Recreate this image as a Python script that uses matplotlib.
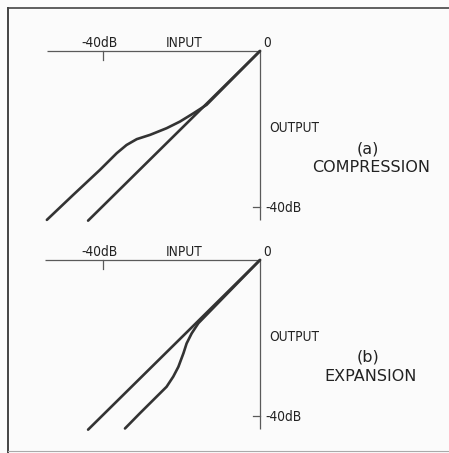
import matplotlib
matplotlib.use("Agg")
import matplotlib.pyplot as plt
from matplotlib.lines import Line2D
from matplotlib import font_manager as fm

# ---- data (dB) ----
input_axis_end_a = -54.3
input_axis_end_b = -54.8
output_axis_end = -43.3
tick_db = -40
tick_label = "-40dB"

ref_x = [0, -43.8]
ref_y = [0, -43.5]

comp_x = [0, -13.6, -17.0, -20.4, -23.8, -28.0, -31.4, -34.0, -36.5, -40.8, -47.6, -54.3]
comp_y = [0, -13.8, -16.0, -18.1, -19.8, -21.5, -22.6, -24.1, -26.2, -30.5, -36.9, -43.3]

exp_x = [0, -15.7, -17.4, -18.7, -19.5, -20.8, -22.1, -23.8, -27.2, -30.6, -34.4]
exp_y = [0, -16.2, -18.8, -21.4, -23.9, -27.4, -29.9, -32.5, -35.9, -39.3, -43.2]

panels = [
    ("(a)", "COMPRESSION", comp_x, comp_y, input_axis_end_a),
    ("(b)", "EXPANSION", exp_x, exp_y, input_axis_end_b),
]

W, H = 449, 453
fig = plt.figure(figsize=(W / 100, H / 100), dpi=100)
fig.patch.set_facecolor("#fbfbfb")

names = {f.name for f in fm.fontManager.ttflist}
narrow_candidates = [n for n in ["Liberation Sans Narrow", "DejaVu Sans"] if n in names]
narrow = narrow_candidates + ["DejaVu Sans"]
wide = ["DejaVu Sans"]
curve_c = "#333333"
axis_c = "#5a5a5a"
sx, sy = 3.925, 3.9
nfs = 9.8

geo = [
    dict(top=0, bottom=226, ox=260, oy=51),
    dict(top=226, bottom=453, ox=260, oy=260),
]

for (lab, name, cx, cy, in_end), g in zip(panels, geo):
    ax = fig.add_axes([0, 1 - g["bottom"] / H, 1, (g["bottom"] - g["top"]) / H])
    ax.set_xlim(-g["ox"] / sx, (W - g["ox"]) / sx)
    ax.set_ylim(-(g["bottom"] - g["oy"]) / sy, (g["oy"] - g["top"]) / sy)
    ax.axis("off")
    ax.patch.set_alpha(0)
    ax.plot([in_end, 0], [0, 0], color=axis_c, lw=0.9, solid_capstyle="butt")
    ax.plot([0, 0], [0, output_axis_end], color=axis_c, lw=0.9, solid_capstyle="butt")
    ax.plot([tick_db, tick_db], [0, -2.3], color=axis_c, lw=0.9)
    ax.plot([-1.8, 0], [tick_db, tick_db], color=axis_c, lw=0.9)
    ax.plot(ref_x, ref_y, color=curve_c, lw=1.9, solid_capstyle="round")
    ax.plot(cx, cy, color=curve_c, lw=1.9, solid_capstyle="round", solid_joinstyle="round")
    kw = dict(family=narrow, fontsize=nfs, fontstretch="condensed", color="#222", va="center")
    ax.text(-40.8, 2.1, tick_label, ha="center", **kw)
    ax.text(-19.3, 2.1, "INPUT", ha="center", **kw)
    ax.text(1.9, 2.1, "0", ha="center", **kw)
    ax.text(2.4, -19.7, "OUTPUT", ha="left", **kw)
    ax.text(1.3, -40.3, tick_label, ha="left", **kw)
    ax.text(27.5, -25.0, lab, family=wide, fontsize=11.5, ha="center", va="center", color="#222")
    ax.text(28.2, -29.9, name, family=wide, fontsize=11.5, ha="center", va="center", color="#222")

fig.add_artist(Line2D([8 / W, 1], [1 - 8 / H, 1 - 8 / H], color="#444", lw=1.2, transform=fig.transFigure))
fig.add_artist(Line2D([8 / W, 8 / W], [1 - 8 / H, 0], color="#444", lw=1.4, transform=fig.transFigure))
fig.add_artist(Line2D([8 / W, 1], [2 / H, 2 / H], color="#aaa", lw=0.8, transform=fig.transFigure))

fig.savefig("out.png", dpi=100, facecolor=fig.get_facecolor())
